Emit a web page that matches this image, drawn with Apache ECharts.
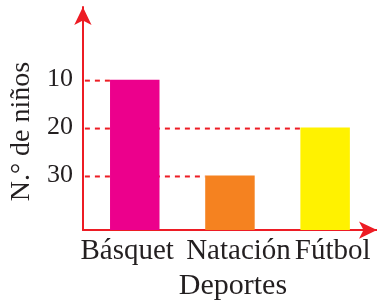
<!DOCTYPE html>
<html>
<head>
    <meta charset="UTF-8">
    <title>N.° de niños por deporte</title>
    <script src="https://cdn.jsdelivr.net/npm/echarts@6/dist/echarts.min.js"></script>
    <style>
        html, body { margin: 0; padding: 0; background: #fff; }
        #main { width: 377px; height: 306px; }
    </style>
</head>
<body>
<div id="main"></div>
<script type="text/javascript">
    // datos del gráfico
    var categories = ['Básquet', 'Natación', 'Fútbol'];
    var values = [10, 30, 20];
    var tickLabels = [10, 20, 30];
    var barColors = ['#ec008c', '#f58220', '#fff200'];

    // los nombres están algo corridos respecto al centro de cada barra
    var labelShift = [-0.08, 0.09, 0.08];

    var Y_MIN = -5.16, Y_MAX = 41.4;
    var RED = '#ed1c24';
    var TEXT = '#231f20';
    var FONT = '"Liberation Serif", "DejaVu Serif", serif';

    var points = [];
    var labelPos = [];
    for (var i = 0; i < categories.length; i++) {
        points.push([i, values[i]]);
        labelPos.push(i + labelShift[i]);
    }

    function barRect(api) {
        var top = api.coord([api.value(0), api.value(1)]);
        var base = api.coord([api.value(0), Y_MAX]);
        var w = api.size([0.52, 0])[0];
        return {x: top[0] - w / 2, y: top[1], width: w, height: base[1] - top[1]};
    }

    var myChart = echarts.init(document.getElementById('main'));
    var option = {
        animation: false,
        grid: {left: 82, right: 0, top: 7, bottom: 75},
        xAxis: {
            type: 'value',
            min: -0.545,
            max: 2.545,
            name: 'Deportes',
            nameLocation: 'middle',
            nameGap: 40,
            nameTextStyle: {fontFamily: FONT, fontSize: 30, color: TEXT, padding: [0, 0, 0, 6]},
            axisLine: {
                show: true,
                onZero: false,
                symbol: ['none', 'arrow'],
                symbolSize: [13, 18],
                lineStyle: {color: RED, width: 2}
            },
            axisTick: {show: false},
            splitLine: {show: false},
            axisLabel: {
                customValues: labelPos,
                formatter: function (v) { return categories[Math.round(v)]; },
                showMinLabel: true,
                showMaxLabel: true,
                hideOverlap: false,
                fontFamily: FONT,
                fontSize: 29,
                color: TEXT,
                margin: 7
            }
        },
        yAxis: {
            type: 'value',
            inverse: true,
            min: Y_MIN,
            max: Y_MAX,
            name: 'N.° de niños',
            nameLocation: 'middle',
            nameRotate: 90,
            nameGap: 46,
            nameTextStyle: {fontFamily: FONT, fontSize: 28, color: TEXT, padding: [0, 26, 0, 0]},
            axisLine: {
                show: true,
                onZero: false,
                symbol: ['none', 'arrow'],
                symbolSize: [13, 18],
                lineStyle: {color: RED, width: 2}
            },
            axisTick: {show: false},
            splitLine: {show: false},
            axisLabel: {
                customValues: tickLabels,
                fontFamily: FONT,
                fontSize: 26,
                color: TEXT,
                margin: 10,
                padding: [0, 0, 20, 0]
            }
        },
        series: [
            {
                // líneas punteadas desde el eje hasta cada barra
                type: 'custom',
                data: points,
                z: 1,
                renderItem: function (params, api) {
                    var r = barRect(api);
                    return {
                        type: 'line',
                        shape: {x1: params.coordSys.x + 2, y1: r.y + 1, x2: r.x, y2: r.y + 1},
                        style: {stroke: RED, lineWidth: 2, lineDash: [5, 5]}
                    };
                }
            },
            {
                type: 'custom',
                data: points,
                z: 2,
                renderItem: function (params, api) {
                    return {
                        type: 'rect',
                        shape: barRect(api),
                        style: {fill: barColors[params.dataIndex]}
                    };
                }
            }
        ]
    };
    myChart.setOption(option);
</script>
</body>
</html>
